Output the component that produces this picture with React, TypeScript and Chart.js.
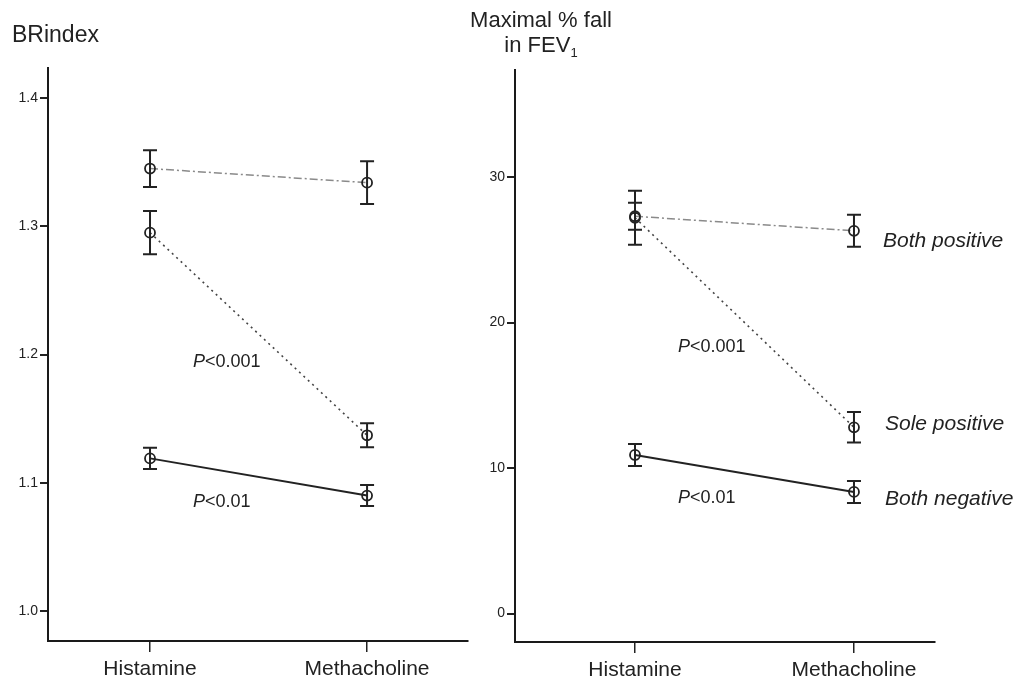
import React, { useEffect, useRef } from "react";
import { Chart, registerables } from "chart.js";

Chart.register(...registerables);

// ---------- data ----------
const categories = ["Histamine", "Methacholine"];
const groupNames = ["Both positive", "Sole positive", "Both negative"];

// BRindex panel
const briBothPos = [1.345, 1.334];
const briBothPosErr = [0.0143, 0.0167];
const briSolePos = [1.295, 1.137];
const briSolePosErr = [0.0168, 0.0094];
const briBothNeg = [1.119, 1.09];
const briBothNegErr = [0.0082, 0.0082];
const briTicks = [1.0, 1.1, 1.2, 1.3, 1.4];

// Maximal % fall in FEV1 panel
const fevBothPos = [27.3, 26.3];
const fevBothPosErr = [0.93, 1.1];
const fevSolePos = [27.2, 12.8];
const fevSolePosErr = [1.86, 1.05];
const fevBothNeg = [10.9, 8.36];
const fevBothNegErr = [0.75, 0.76];
const fevTicks = [0, 10, 20, 30];

const FONT = "'Liberation Sans', Arial, Helvetica, sans-serif";

const errorBarPlugin = {
  id: "errorBars",
  afterDatasetsDraw(chart: any) {
    const ctx = chart.ctx;
    const yScale = chart.scales.y;
    chart.data.datasets.forEach((ds: any, i: number) => {
      const meta = chart.getDatasetMeta(i);
      const errs: number[] = ds.errors;
      if (!errs) return;
      meta.data.forEach((pt: any, j: number) => {
        const v = ds.data[j].y;
        const x = pt.x;
        const yTop = yScale.getPixelForValue(v + errs[j]);
        const yBot = yScale.getPixelForValue(v - errs[j]);
        ctx.save();
        ctx.strokeStyle = "#222";
        ctx.lineWidth = 2;
        ctx.beginPath();
        ctx.moveTo(x, yTop);
        ctx.lineTo(x, yBot);
        ctx.moveTo(x - 7, yTop);
        ctx.lineTo(x + 7, yTop);
        ctx.moveTo(x - 7, yBot);
        ctx.lineTo(x + 7, yBot);
        ctx.stroke();
        ctx.restore();
      });
    });
  },
};

const lineStyles = [
  { color: "#8a8a8a", width: 1.5, dash: [8, 3, 2, 3] },
  { color: "#444", width: 1.6, dash: [2, 4] },
  { color: "#222", width: 2, dash: [] as number[] },
];

function makeDataset(label: string, values: number[], errors: number[], idx: number) {
  const st = lineStyles[idx];
  return {
    label,
    data: values.map((v, i) => ({ x: i, y: v })),
    errors,
    borderColor: st.color,
    borderWidth: st.width,
    borderDash: st.dash,
    pointRadius: 5,
    pointBorderWidth: 1.8,
    pointBorderColor: "#222",
    pointBackgroundColor: "rgba(255,255,255,0)",
    fill: false,
    tension: 0,
  };
}

function makeConfig(opts: {
  datasets: any[];
  xMin: number;
  xMax: number;
  yMin: number;
  yMax: number;
  yTicks: number[];
  yFmt: (v: number) => string;
  yWidth: number;
  xHeight: number;
  padTop: number;
  padRight: number;
}): any {
  return {
    type: "line",
    data: { datasets: opts.datasets },
    plugins: [errorBarPlugin],
    options: {
      responsive: false,
      animation: false,
      devicePixelRatio: 1,
      layout: { padding: { top: opts.padTop, right: opts.padRight, left: 0, bottom: 0 } },
      plugins: { legend: { display: false }, tooltip: { enabled: false } },
      scales: {
        x: {
          type: "linear",
          min: opts.xMin,
          max: opts.xMax,
          afterBuildTicks: (s: any) => {
            s.ticks = categories.map((_, i) => ({ value: i }));
          },
          afterFit: (s: any) => {
            s.height = opts.xHeight;
          },
          ticks: {
            callback: (v: number) => categories[v] ?? "",
            font: { family: FONT, size: 21 },
            color: "#222",
            padding: 5,
            maxRotation: 0,
            autoSkip: false,
          },
          grid: {
            display: true,
            drawOnChartArea: false,
            drawTicks: true,
            tickLength: 11,
            color: "#222",
            lineWidth: 1.5,
          },
          border: { display: true, color: "#1a1a1a", width: 2 },
        },
        y: {
          type: "linear",
          min: opts.yMin,
          max: opts.yMax,
          afterBuildTicks: (s: any) => {
            s.ticks = opts.yTicks.map((v) => ({ value: v }));
          },
          afterFit: (s: any) => {
            s.width = opts.yWidth;
          },
          ticks: {
            callback: (v: number) => opts.yFmt(v),
            font: { family: FONT, size: 14 },
            color: "#222",
            padding: 2,
            autoSkip: false,
          },
          grid: {
            display: true,
            drawOnChartArea: false,
            drawTicks: true,
            tickLength: 8,
            color: "#222",
            lineWidth: 2,
          },
          border: { display: true, color: "#1a1a1a", width: 2 },
        },
      },
    },
  };
}

const textBase: React.CSSProperties = {
  position: "absolute",
  fontFamily: FONT,
  color: "#222",
  lineHeight: 1,
  whiteSpace: "nowrap",
};

function PLabel({ left, top, text }: { left: number; top: number; text: string }) {
  return (
    <div style={{ ...textBase, left, top, fontSize: 18 }}>
      <span style={{ fontStyle: "italic" }}>P</span>
      {text}
    </div>
  );
}

export default function App() {
  const leftRef = useRef<HTMLCanvasElement>(null);
  const rightRef = useRef<HTMLCanvasElement>(null);

  useEffect(() => {
    const left = new Chart(
      leftRef.current as HTMLCanvasElement,
      makeConfig({
        datasets: [
          makeDataset(groupNames[0], briBothPos, briBothPosErr, 0),
          makeDataset(groupNames[1], briSolePos, briSolePosErr, 1),
          makeDataset(groupNames[2], briBothNeg, briBothNegErr, 2),
        ],
        xMin: -0.47,
        xMax: 1.465,
        yMin: 0.9766,
        yMax: 1.4234,
        yTicks: briTicks,
        yFmt: (v) => v.toFixed(1),
        yWidth: 48,
        xHeight: 44,
        padTop: 68,
        padRight: 12,
      })
    );
    const right = new Chart(
      rightRef.current as HTMLCanvasElement,
      makeConfig({
        datasets: [
          makeDataset(groupNames[0], fevBothPos, fevBothPosErr, 0),
          makeDataset(groupNames[1], fevSolePos, fevSolePosErr, 1),
          makeDataset(groupNames[2], fevBothNeg, fevBothNegErr, 2),
        ],
        xMin: -0.548,
        xMax: 1.37,
        yMin: -1.95,
        yMax: 37.35,
        yTicks: fevTicks,
        yFmt: (v) => String(Math.round(v)),
        yWidth: 45,
        xHeight: 43,
        padTop: 70,
        padRight: 85,
      })
    );
    return () => {
      left.destroy();
      right.destroy();
    };
  }, []);

  return (
    <div
      style={{
        position: "absolute",
        left: 0,
        top: 0,
        width: 1020,
        height: 685,
        background: "#fff",
        overflow: "hidden",
      }}
    >
      <canvas
        ref={leftRef}
        width={480}
        height={685}
        style={{ position: "absolute", left: 0, top: 0, width: 480, height: 685 }}
      />
      <canvas
        ref={rightRef}
        width={550}
        height={685}
        style={{ position: "absolute", left: 470, top: 0, width: 550, height: 685 }}
      />

      <div style={{ ...textBase, left: 12, top: 23, fontSize: 23 }}>BRindex</div>
      <div style={{ ...textBase, left: 441, top: 9, width: 200, textAlign: "center", fontSize: 22 }}>
        Maximal % fall
      </div>
      <div style={{ ...textBase, left: 441, top: 34, width: 200, textAlign: "center", fontSize: 22 }}>
        in FEV<sub style={{ fontSize: 13, verticalAlign: "-5px", lineHeight: 0 }}>1</sub>
      </div>

      <PLabel left={193} top={352} text="<0.001" />
      <PLabel left={193} top={492} text="<0.01" />
      <PLabel left={678} top={337} text="<0.001" />
      <PLabel left={678} top={488} text="<0.01" />

      <div style={{ ...textBase, left: 883, top: 229, fontSize: 21, fontStyle: "italic" }}>
        {groupNames[0]}
      </div>
      <div style={{ ...textBase, left: 885, top: 412, fontSize: 21, fontStyle: "italic" }}>
        {groupNames[1]}
      </div>
      <div style={{ ...textBase, left: 885, top: 487, fontSize: 21, fontStyle: "italic" }}>
        {groupNames[2]}
      </div>
    </div>
  );
}
